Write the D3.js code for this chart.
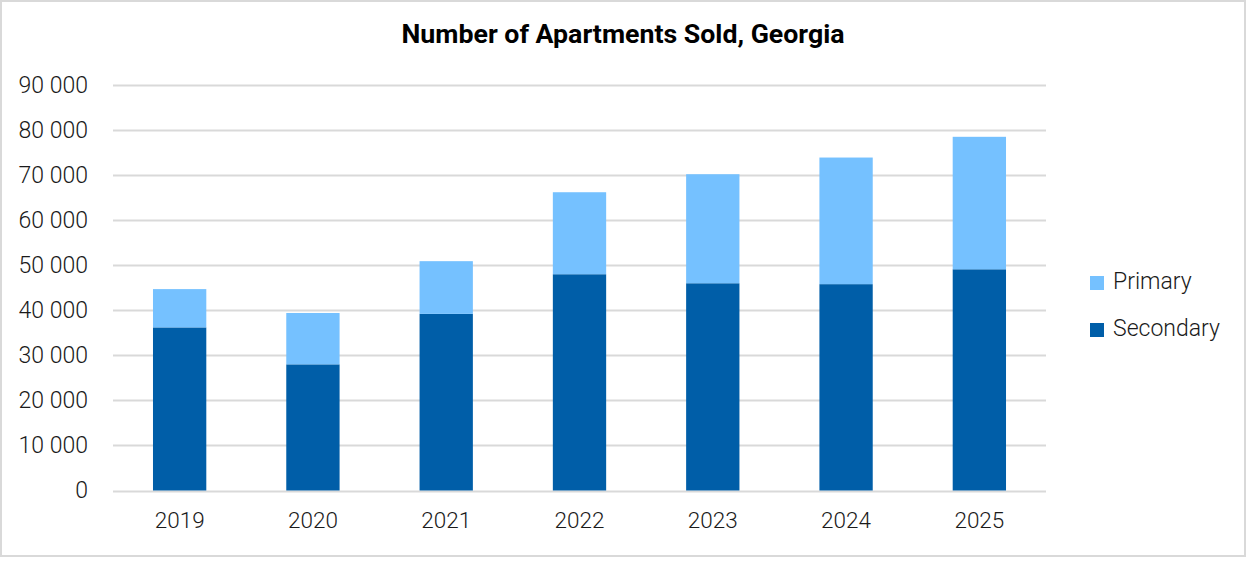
<!DOCTYPE html>
<html>
<head>
<meta charset="utf-8">
<script src="https://cdn.jsdelivr.net/npm/d3@7"></script>
<style>
	body { margin: 0; background: #fff; }
	svg { display: block; font-family: Roboto, sans-serif; }
</style>
</head>
<body>
<svg id="chart" width="1249" height="561"></svg>
<script>

// data
let years = ['2019', '2020', '2021', '2022', '2023', '2024', '2025'];
let secondary = [36200, 28000, 39200, 48000, 46000, 45800, 49100];
let primary = [8500, 11400, 11700, 18200, 24200, 28100, 29400];
let y_ticks = [0, 10000, 20000, 30000, 40000, 50000, 60000, 70000, 80000, 90000];
let series_names = ['Primary', 'Secondary'];

let colors = {Secondary: '#005ea8', Primary: '#75c1ff'};

let svg = d3.select('#chart');

// outer frame
svg.append('rect')
.attr('x', 1)
.attr('y', 1)
.attr('width', 1244)
.attr('height', 555)
.attr('fill', 'white')
.attr('stroke', '#d9d9d9')
.attr('stroke-width', 2);

svg.append('text')
.attr('x', 623)
.attr('y', 43)
.attr('text-anchor', 'middle')
.attr('font-size', 25)
.attr('font-weight', 'bold')
.attr('fill', '#000')
.attr('textLength', 443)
.attr('lengthAdjust', 'spacingAndGlyphs')
.text('Number of Apartments Sold, Georgia');

let x = d3.scaleBand()
.domain(years)
.range([113, 1046])
.paddingInner(0.6)
.paddingOuter(0.3);

let y = d3.scaleLinear()
.domain([0, 90000])
.range([490.5, 85]);

// gridlines
svg.append('g')
.selectAll('line')
.data(y_ticks)
.join('line')
.attr('x1', 113)
.attr('x2', 1046)
.attr('y1', d => Math.round(y(d)) + 0.5)
.attr('y2', d => Math.round(y(d)) + 0.5)
.attr('stroke', '#d9d9d9')
.attr('stroke-width', 2);

let fmt = d => d3.format(',')(d).replace(/,/g, ' ');

let yAxis = svg.append('g')
.attr('transform', 'translate(88,0)')
.call(d3.axisLeft(y).tickValues(y_ticks).tickFormat(fmt).tickSize(0).tickPadding(0));
yAxis.select('.domain').remove();
yAxis.selectAll('text')
.attr('font-family', 'Roboto')
.attr('font-weight', 300)
.attr('font-size', 23)
.attr('fill', '#1a1a1a');

let xAxis = svg.append('g')
.attr('transform', 'translate(0,512)')
.call(d3.axisBottom(x).tickSize(0).tickPadding(0));
xAxis.select('.domain').remove();
xAxis.selectAll('text')
.attr('font-family', 'Roboto')
.attr('font-weight', 300)
.attr('font-size', 22.5)
.attr('fill', '#1a1a1a');

// stacked bars
let rows = years.map((yr, i) => ({year: yr, Secondary: secondary[i], Primary: primary[i]}));
let stack = d3.stack().keys(['Secondary', 'Primary'])(rows);

svg.append('g')
.selectAll('g')
.data(stack)
.join('g')
.attr('fill', d => colors[d.key])
.selectAll('rect')
.data(d => d)
.join('rect')
.attr('x', d => x(d.data.year))
.attr('width', x.bandwidth())
.attr('y', d => y(d[1]))
.attr('height', d => y(d[0]) - y(d[1]));

// legend
let legend = svg.append('g')
.selectAll('g')
.data(series_names)
.join('g')
.attr('transform', (d, i) => `translate(1090,${276 + i * 47})`);
legend.append('rect')
.attr('width', 14)
.attr('height', 14)
.attr('fill', d => colors[d]);
legend.append('text')
.attr('x', 23)
.attr('y', 13)
.attr('font-weight', 300)
.attr('font-size', 23)
.attr('fill', '#1a1a1a')
.text(d => d);

</script>
</body>
</html>
